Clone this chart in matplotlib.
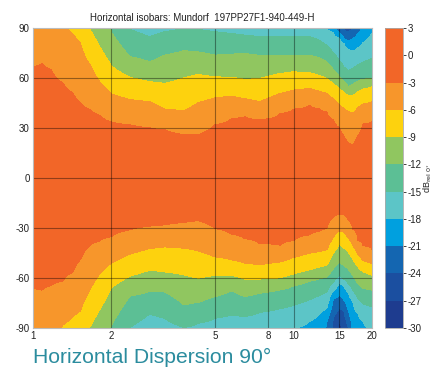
import numpy as np
import matplotlib
matplotlib.use("Agg")
import matplotlib.pyplot as plt
from matplotlib.ticker import FixedLocator, FixedFormatter, NullLocator

plt.rcParams['font.family'] = ['Liberation Sans', 'DejaVu Sans']
plt.rcParams['axes.unicode_minus'] = False

n = np.nan

# frequencies (kHz) at which the isobar angles were read
freqs = [1.0, 1.08, 1.17, 1.3, 1.42, 1.52, 1.65, 1.8, 2.0, 2.35, 2.8, 3.2, 3.8, 4.3, 5.0,
         5.8, 6.5, 7.4, 8.9, 10.0, 11.5, 12.5, 13.4, 14.2, 15.0, 15.6, 16.2, 16.9, 17.7, 18.5, 20.0]

# isobar levels (dB)
iso_levels = [-3, -6, -9, -12, -15, -18, -21, -24, -27]

# upper half: angle (deg) where each isobar is crossed
up_3 = [66.6, 68.5, 65, 56.8, 50.8, 44.6, 41, 37.5, 33.5, 31.8, 30, 28.8, 25.8, 25.8, 31.8,
        35.6, 36.6, 34.8, 38.6, 41.2, 43.6, 41.5, 39.6, 34.8, 30, 25, 20.8, 19.6, 25.5, 32.3, 33.6]
up_6 = [n, n, n, n, 86, 80.6, 68, 57.7, 50.3, 47, 45.6, 41.2, 40, 45, 48,
        49, 47.4, 45.6, 50.6, 52.6, 53.6, 52, 50.6, 47.4, 43.8, 41.5, 39.8, 38.8, 42.5, 44.2, 45.6]
up_9 = [n, n, n, n, n, n, 89, 78.7, 67, 60.3, 57.6, 56.6, 60, 62, 60.6,
        60.2, 59, 59.6, 62.6, 63.6, 63, 61.5, 59.6, 56.5, 53.6, 51.5, 49.5, 49.5, 51.8, 53.2, 54.6]
up_12 = [n, n, n, n, n, n, n, n, 87, 72.7, 69.6, 73.6, 76.3, 75.5, 73.6,
         74.2, 74.6, 73.5, 73.6, 73.6, 73.6, 72, 69.6, 65, 60.6, 57.5, 54.6, 56, 58, 59, 59.6]
up_15 = [n, n, n, n, n, n, n, n, n, 89, 84.6, 87.6, 89.5, 89, 87.6,
         86.5, 85.6, 84.6, 84.6, 84.6, 84.6, 82.5, 79.6, 74.8, 69.8, 66.4, 64, 65.5, 68, 69.5, 71.6]
up_18 = [n, n, n, n, n, n, n, n, n, n, n, n, n, n, n,
         n, n, n, n, n, n, n, 89.5, 87, 83.8, 80.5, 77, 76, 78, 81, 86.5]
up_21 = [n, n, n, n, n, n, n, n, n, n, n, n, n, n, n,
         n, n, n, n, n, n, n, n, n, 86.5, 83.5, 82, 83.5, 86.5, n, n]
up_24 = [n, n, n, n, n, n, n, n, n, n, n, n, n, n, n,
         n, n, n, n, n, n, n, n, n, n, 88.8, 87.5, 89.5, n, n, n]
up_27 = [n] * 31
edge_up = [-5, -4.8, -5.2, -5.8, -6.3, -6.8, -9.1, -10.5, -12.2, -15.1, -16, -15.5, -15.1, -15.1, -15.5,
           -15.8, -16, -16.2, -16.2, -16.2, -16.2, -16.5, -18.1, -20, -23.5, -25, -26, -24.5, -22.5, -20.5, -19.5]

# lower half
dn_3 = [-66.2, -67.2, -64.5, -61.8, -56.5, -48.8, -40.5, -37.7, -35, -31, -28.8, -28, -26.5, -25.5, -30.2,
        -33.6, -36.3, -39.2, -40.2, -37.5, -34, -32, -30.2, -23.5, -21.5, -22, -25, -30.5, -37.5, -40.5, -42.5]
dn_6 = [n, n, n, -88, -83, -79.5, -67, -57.5, -50.8, -45.6, -42.2, -41.2, -42, -43.5, -47.2,
        -49, -51, -52, -50.2, -47.5, -45, -44, -43, -35.4, -31.5, -32.5, -35.5, -40, -46, -49.5, -51.2]
dn_9 = [n, n, n, n, n, n, -89.5, -79, -65.5, -58.8, -55.2, -56.2, -58, -60, -58.2,
        -58.2, -60.5, -60.5, -59.8, -57.5, -55, -53.5, -52.2, -44.9, -39.5, -41.8, -43.8, -48.5, -53.3, -56, -58.2]
dn_12 = [n, n, n, n, n, n, n, n, -88, -70.8, -68, -68.2, -76, -74.5, -71,
         -67.5, -71, -69, -67, -64.5, -61.8, -60.4, -59.2, -54.2, -50.5, -52.5, -54.5, -58.5, -63.5, -66, -67.2]
dn_15 = [n, n, n, n, n, n, n, n, n, -89.5, -81.5, -84, -89.5, -87, -84,
         -82, -83, -80.5, -78.2, -76.2, -72.9, -70.5, -68.2, -62.6, -58.5, -60.5, -63, -67, -72.5, -75.5, -77.2]
dn_18 = [n, n, n, n, n, n, n, n, n, n, n, n, n, n, n,
         n, n, n, n, n, -86, -82, -78, -67.5, -62.5, -64.5, -68.5, -74, -81.5, -86, n]
dn_21 = [n, n, n, n, n, n, n, n, n, n, n, n, n, n, n,
         n, n, n, n, n, n, n, -86, -72.5, -70.3, -73, -79, n, n, n, n]
dn_24 = [n, n, n, n, n, n, n, n, n, n, n, n, n, n, n,
         n, n, n, n, n, n, n, n, -84, -78, -79.5, -89, n, n, n, n]
dn_27 = [n, n, n, n, n, n, n, n, n, n, n, n, n, n, n,
         n, n, n, n, n, n, n, n, n, -86, n, n, n, n, n, n]
edge_dn = [-5, -4.8, -5.3, -6.1, -6.6, -7.2, -9.05, -10.6, -12.2, -15.05, -16.3, -15.8, -15.05, -15.3, -15.8,
           -16.3, -16.1, -16.4, -17, -17.9, -18.5, -19.5, -21.3, -24.8, -27.8, -26.5, -24.2, -20.5, -19.3, -18.4, -17.6]

# colour scale
levels = [-30, -27, -24, -21, -18, -15, -12, -9, -6, -3, 3]
colors = ['#1E3C8F', '#1B4FA0', '#1466B1', '#00A0DF', '#5CC5C7',
          '#5CBF95', '#90C660', '#FDD20E', '#F7962B', '#F26628']
cb_ticks = [3, 0, -3, -6, -9, -12, -15, -18, -21, -24, -27, -30]
x_ticks = [1, 2, 5, 8, 10, 15, 20]
y_ticks = [-90, -60, -30, 0, 30, 60, 90]

# ---- build the level table from the isobar angles ----
ups = [up_3, up_6, up_9, up_12, up_15, up_18, up_21, up_24, up_27]
dns = [dn_3, dn_6, dn_9, dn_12, dn_15, dn_18, dn_21, dn_24, dn_27]
angles = np.linspace(-90, 90, 721)
Z = np.zeros((len(angles), len(freqs)))
for j in range(len(freqs)):
    ka, kv = [-90.0], [edge_dn[j]]
    for lev, arr in reversed(list(zip(iso_levels, dns))):
        if not np.isnan(arr[j]):
            ka.append(arr[j]); kv.append(lev)
    ka.append(0.0); kv.append(0.0)
    for lev, arr in zip(iso_levels, ups):
        if not np.isnan(arr[j]):
            ka.append(arr[j]); kv.append(lev)
    ka.append(90.0); kv.append(edge_up[j])
    Z[:, j] = np.interp(angles, ka, kv)

fig = plt.figure(figsize=(4.35, 3.67), dpi=100)
ax = fig.add_axes([33 / 435, 1 - 328 / 367, (372 - 33) / 435, 300 / 367])
cs = ax.contourf(freqs, angles, Z, levels=levels, colors=colors)
cs.set_edgecolor('face')
cs.set_linewidth(0.3)

ax.set_xscale('log')
ax.set_xlim(1, 20)
ax.set_ylim(-90, 90)
ax.xaxis.set_major_locator(FixedLocator(x_ticks))
ax.xaxis.set_major_formatter(FixedFormatter([str(t) for t in x_ticks]))
ax.xaxis.set_minor_locator(NullLocator())
ax.set_yticks(y_ticks)
ax.tick_params(length=0, labelsize=7, pad=2.5, colors='#222222')
for xv in x_ticks[1:-1]:
    ax.axvline(xv, color='black', alpha=0.4, lw=0.8)
for yv in y_ticks[1:-1]:
    ax.axhline(yv, color='black', alpha=0.4, lw=0.8)
for s in ax.spines.values():
    s.set_color('#BBBBBB')
    s.set_linewidth(0.8)
ax.set_title('Horizontal isobars: Mundorf  197PP27F1-940-449-H', fontsize=7, pad=5, color='#222222')

cax = fig.add_axes([385 / 435, 1 - 328 / 367, 18 / 435, 300 / 367])
cb = fig.colorbar(cs, cax=cax, ticks=cb_ticks, spacing='proportional')
cb.outline.set_edgecolor('#AAAAAA')
cb.outline.set_linewidth(0.6)
cax.tick_params(labelsize=7, length=2, width=0.6, pad=1.5, colors='#222222')
cb.set_label(r'dB$_{\mathrm{rel\ 0^{\circ}}}$', fontsize=6.5, labelpad=0, color='#222222')

fig.text(33 / 435, 1 - 363.3 / 367, 'Horizontal Dispersion 90°', fontsize=15.2,
         color='#2B8C9E', va='baseline', ha='left')

fig.savefig('out.png', dpi=100)
